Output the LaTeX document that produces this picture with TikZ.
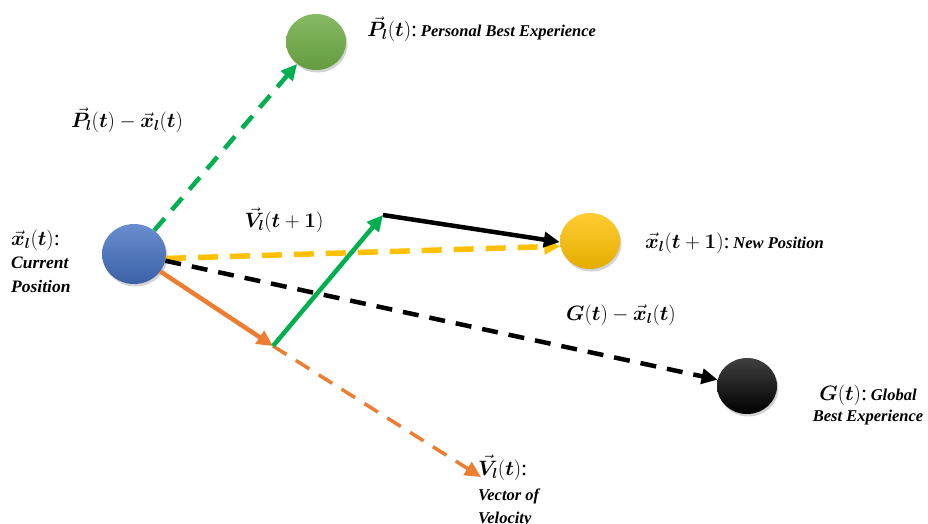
\documentclass[tikz,border=0pt]{standalone}
\usepackage{fontspec}
\setmainfont{Liberation Serif}
\usepackage{bm}
\usetikzlibrary{arrows.meta,shapes.geometric,shadows}

\definecolor{curblue}{HTML}{4472C4}
\definecolor{pbgreen}{HTML}{70AD47}
\definecolor{newgold}{HTML}{FFC000}
\definecolor{velorange}{HTML}{ED7D31}
\definecolor{arrgreen}{HTML}{00B050}

\newcommand{\desc}{\fontsize{16.5}{20}\selectfont\bfseries\itshape}

\begin{document}
\begin{tikzpicture}[x=1pt,y=-1pt,
  ball/.style={ellipse, minimum width=60pt, minimum height=56pt, inner sep=0pt,
    drop shadow={opacity=0.35, shadow xshift=1.5pt, shadow yshift=-2.5pt}},
  vec/.style={line width=4.5pt, -{Triangle[length=16pt,width=15pt]}},
  dsh/.style={dash pattern=on 16pt off 11pt},
  lbl/.style={font=\fontsize{22}{24}\selectfont, inner sep=0pt}]

\useasboundingbox (0,0) rectangle (928,523);

% particles
\node[ball, minimum width=64pt, minimum height=60pt, top color=curblue!80!white, bottom color=curblue!85!black] (cur) at (134,254) {};
\node[ball, top color=pbgreen!85!white, bottom color=pbgreen!90!black] (pbest) at (316,42) {};
\node[ball, top color=newgold!80!white, bottom color=newgold!90!black] (newpos) at (590,241) {};
\node[ball, top color=black!75, bottom color=black] (gbest) at (747,386) {};

\coordinate (kink) at (273,346);
\coordinate (top) at (383,215);
\coordinate (velend) at (481,477);

% vectors
\draw[vec, dsh, arrgreen] (cur) -- (pbest);
\draw[vec, dsh, newgold, line width=5.5pt, dash pattern=on 20pt off 12pt] (cur.-8) -- (newpos.190);
\draw[vec, dsh, black] (cur) -- (gbest);
\draw[vec, velorange] (cur) -- (kink);
\draw[vec, dsh, velorange, line width=3.5pt] (kink) -- (velend);
\draw[vec, arrgreen] (kink) -- (top);
\draw[vec, black] (top) -- (newpos.182);

% labels
\node[lbl, anchor=west] (pbestlbl) at (367,29) {$\vec{\bm P}_{\bm l}(\bm t)$:\,{\desc Personal Best Experience}};
\node[lbl] (difflbl) at (127,120) {$\vec{\bm P}_{\bm l}(\bm t)-\vec{\bm x}_{\bm l}(\bm t)$};
\node[lbl, anchor=north west, align=left] (curlbl) at (11,230) {$\vec{\bm x}_{\bm l}(\bm t)$:\\[-1pt]{\desc\fontsize{17.5}{20}\selectfont Current}\\[0pt]{\desc\fontsize{17.5}{20}\selectfont Position}};
\node[lbl] (vnewlbl) at (284,220) {$\vec{\bm V}_{\bm l}(\bm t+\bm 1)$};
\node[lbl, anchor=west] (newlbl) at (645,243) {$\vec{\bm x}_{\bm l}(\bm t+\bm 1)$:\,{\desc New Position}};
\node[lbl] (gdifflbl) at (621,315) {$\bm G(\bm t)-\vec{\bm x}_{\bm l}(\bm t)$};
\node[lbl, anchor=north, align=center] (gbestlbl) at (868,385) {$\bm G(\bm t)$:\,{\desc Global}\\[-3pt]{\desc Best Experience}};
\node[lbl, anchor=north west, align=left] (vellbl) at (478,455) {$\vec{\bm V}_{\bm l}(\bm t)$:\\[1pt]{\desc Vector of}\\[-1pt]{\desc Velocity}};
\end{tikzpicture}
\end{document}
